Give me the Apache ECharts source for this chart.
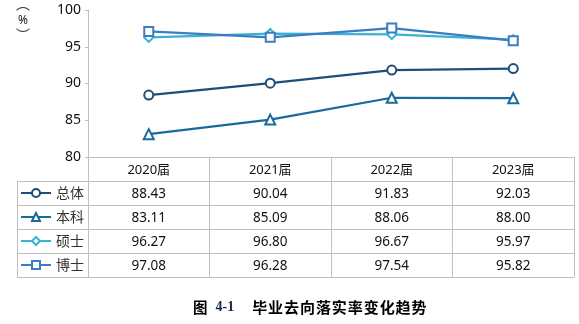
<!DOCTYPE html>
<html>
<head>
<meta charset="utf-8">
<script src="https://cdn.jsdelivr.net/npm/echarts@6/dist/echarts.min.js"></script>
<style>
html,body{margin:0;padding:0;background:#fff;}
#chart{width:579px;height:324px;}
</style>
</head>
<body>
<div id="chart"></div>
<script>
var categories = ['2020届', '2021届', '2022届', '2023届'];
var seriesNames = ['总体', '本科', '硕士', '博士'];
var totalValues = [88.43, 90.04, 91.83, 92.03];
var undergradValues = [83.11, 85.09, 88.06, 88.00];
var masterValues = [96.27, 96.80, 96.67, 95.97];
var doctorValues = [97.08, 96.28, 97.54, 95.82];
var yTicks = [80, 85, 90, 95, 100];
var captionText = '毕业去向落实率变化趋势';
var captionNumber = '4-1';

var allValues = [totalValues, undergradValues, masterValues, doctorValues];
var colors = ['#1F4E79', '#1B6A9C', '#3AB2D2', '#3A7DC2'];
var symbols = ['emptyCircle', 'emptyTriangle', 'emptyDiamond', 'emptyRect'];
var symbolSizes = [9, 10, 9, 9];

var GRID_LEFT = 88, GRID_RIGHT = 574, GRID_TOP = 10, GRID_BOTTOM = 157;
var ROW_H = 24, TABLE_LEFT = 17;
var BORDER = '#BFBFBF';
var numFont = 'Noto Sans';
var cjkFont = 'Noto Sans CJK SC';

var chart = echarts.init(document.getElementById('chart'), null, {renderer: 'canvas'});

var xAxes = [{
  type: 'category',
  gridIndex: 0,
  position: 'bottom',
  data: categories,
  boundaryGap: true,
  axisLine: {show: true, lineStyle: {color: BORDER, width: 1}},
  axisTick: {show: true, length: ROW_H, lineStyle: {color: BORDER, width: 1}},
  axisLabel: {margin: 7, fontSize: 13, color: '#111', fontFamily: numFont + ',' + cjkFont},
  splitLine: {show: false}
}];
allValues.forEach(function (vals, i) {
  xAxes.push({
    type: 'category',
    gridIndex: 0,
    position: 'bottom',
    offset: ROW_H * (i + 1),
    data: vals.map(function (v) { return v.toFixed(2); }),
    boundaryGap: true,
    axisLine: {show: true, lineStyle: {color: BORDER, width: 1}},
    axisTick: {show: true, length: ROW_H, lineStyle: {color: BORDER, width: 1}},
    axisLabel: {margin: 6, fontSize: 13.5, color: '#111', fontFamily: numFont},
    splitLine: {show: false}
  });
});
xAxes.push({
  type: 'category',
  gridIndex: 0,
  position: 'bottom',
  offset: ROW_H * 5,
  data: categories.map(function () { return ''; }),
  boundaryGap: true,
  axisLine: {show: true, lineStyle: {color: BORDER, width: 1}},
  axisTick: {show: false},
  axisLabel: {show: false},
  splitLine: {show: false}
});

var graphics = [];
for (var r = 1; r <= 5; r++) {
  graphics.push({
    type: 'line', silent: true,
    shape: {x1: TABLE_LEFT, y1: GRID_BOTTOM + ROW_H * r + 0.5, x2: GRID_LEFT, y2: GRID_BOTTOM + ROW_H * r + 0.5},
    style: {stroke: BORDER, lineWidth: 1}
  });
}
graphics.push({
  type: 'line', silent: true,
  shape: {x1: TABLE_LEFT + 0.5, y1: GRID_BOTTOM + ROW_H, x2: TABLE_LEFT + 0.5, y2: GRID_BOTTOM + ROW_H * 5},
  style: {stroke: BORDER, lineWidth: 1}
});
// vertical unit label "（%）"
graphics.push({
  type: 'text', silent: true, x: 23, y: 3.5,
  style: {text: '︵', fontSize: 14, fontFamily: cjkFont, fill: '#333', align: 'center', verticalAlign: 'middle'}
});
graphics.push({
  type: 'text', silent: true, x: 23, y: 21,
  style: {text: '%', fontSize: 12, fontFamily: numFont, fill: '#222', align: 'center', verticalAlign: 'middle'}
});
graphics.push({
  type: 'text', silent: true, x: 23, y: 34.5,
  style: {text: '︶', fontSize: 14, fontFamily: cjkFont, fill: '#333', align: 'center', verticalAlign: 'middle'}
});

var option = {
  animation: false,
  backgroundColor: '#fff',
  title: [{
    text: '{a|图}{b|' + captionNumber + '}{c|' + captionText.split('').join('\u200A') + '}',
    left: 193, top: 300, padding: 0,
    textStyle: {
      rich: {
        a: {fontSize: 14.5, fontWeight: 'bold', color: '#000', fontFamily: cjkFont},
        b: {fontSize: 14, fontWeight: 'bold', color: '#14264a', fontFamily: 'Liberation Serif', padding: [0, 0, 0, 8]},
        c: {fontSize: 15, fontWeight: 'bold', color: '#000', fontFamily: cjkFont, padding: [0, 0, 0, 18]}
      }
    }
  }],
  legend: {
    orient: 'vertical',
    left: 20,
    top: GRID_BOTTOM + ROW_H,
    padding: 0,
    itemGap: 0,
    itemWidth: 30,
    itemHeight: 10,
    data: seriesNames,
    textStyle: {fontSize: 14, color: '#333', fontFamily: cjkFont, lineHeight: ROW_H}
  },
  grid: {left: GRID_LEFT, right: 579 - GRID_RIGHT, top: GRID_TOP, bottom: 324 - GRID_BOTTOM, containLabel: false},
  xAxis: xAxes,
  yAxis: {
    type: 'value',
    min: yTicks[0], max: yTicks[yTicks.length - 1], interval: 5,
    axisLine: {show: true, lineStyle: {color: BORDER, width: 1}},
    axisTick: {show: true, length: 3, lineStyle: {color: BORDER}},
    axisLabel: {margin: 7, fontSize: 14, color: '#111', fontFamily: numFont},
    splitLine: {show: false}
  },
  graphic: graphics,
  series: allValues.map(function (vals, i) {
    return {
      name: seriesNames[i],
      type: 'line',
      xAxisIndex: 0,
      data: vals,
      symbol: symbols[i],
      symbolSize: symbolSizes[i],
      lineStyle: {color: colors[i], width: 2.25},
      itemStyle: {color: colors[i], borderColor: colors[i], borderWidth: 2.25},
      emphasis: {disabled: true}
    };
  })
};
chart.setOption(option);
</script>
</body>
</html>
